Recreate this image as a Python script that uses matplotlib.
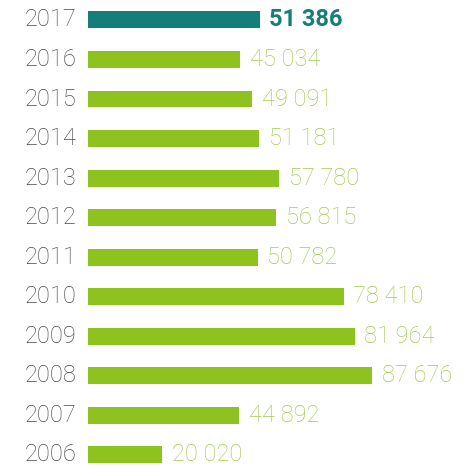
import matplotlib
matplotlib.use('Agg')
import matplotlib.pyplot as plt

# yearly totals, newest first
years = ['2017', '2016', '2015', '2014', '2013', '2012', '2011', '2010', '2009', '2008', '2007', '2006']
values = [51386, 45034, 49091, 51181, 57780, 56815, 50782, 78410, 81964, 87676, 44892, 20020]
labels = ['51 386', '45 034', '49 091', '51 181', '57 780', '56 815', '50 782', '78 410', '81 964', '87 676', '44 892', '20 020']

green = '#8dc21f'
teal = '#147f7a'
label_green = '#a6c952'
year_grey = '#4a4a4a'

plt.rcParams['font.family'] = ['Roboto', 'DejaVu Sans']

fig = plt.figure(figsize=(4.64, 4.68), dpi=100)
ax = fig.add_axes([0, 0, 1, 1])

# bars stick out a bit to the left of zero
pad = 3900
rows = list(range(len(years)))
colors = [teal] + [green] * (len(years) - 1)
ax.barh(rows, [v + pad for v in values], left=-pad, height=0.43, color=colors)

for i, (yr, v, lab) in enumerate(zip(years, values, labels)):
    ax.annotate(yr, (-pad, i), xytext=(-8, 0), textcoords='offset points',
                ha='right', va='center', fontsize=17, color=year_grey, fontweight='light')
    if i == 0:
        ax.annotate(lab, (v, i), xytext=(7, 0), textcoords='offset points',
                    ha='left', va='center', fontsize=17, color=teal, fontweight='bold')
    else:
        ax.annotate(lab, (v, i), xytext=(7, 0), textcoords='offset points',
                    ha='left', va='center', fontsize=17, color=label_green, fontweight='light')

ax.set_xlim(-32200, 117200)
ax.set_ylim(11.34, -0.506)
ax.axis('off')

fig.savefig('out.png', dpi=100)
